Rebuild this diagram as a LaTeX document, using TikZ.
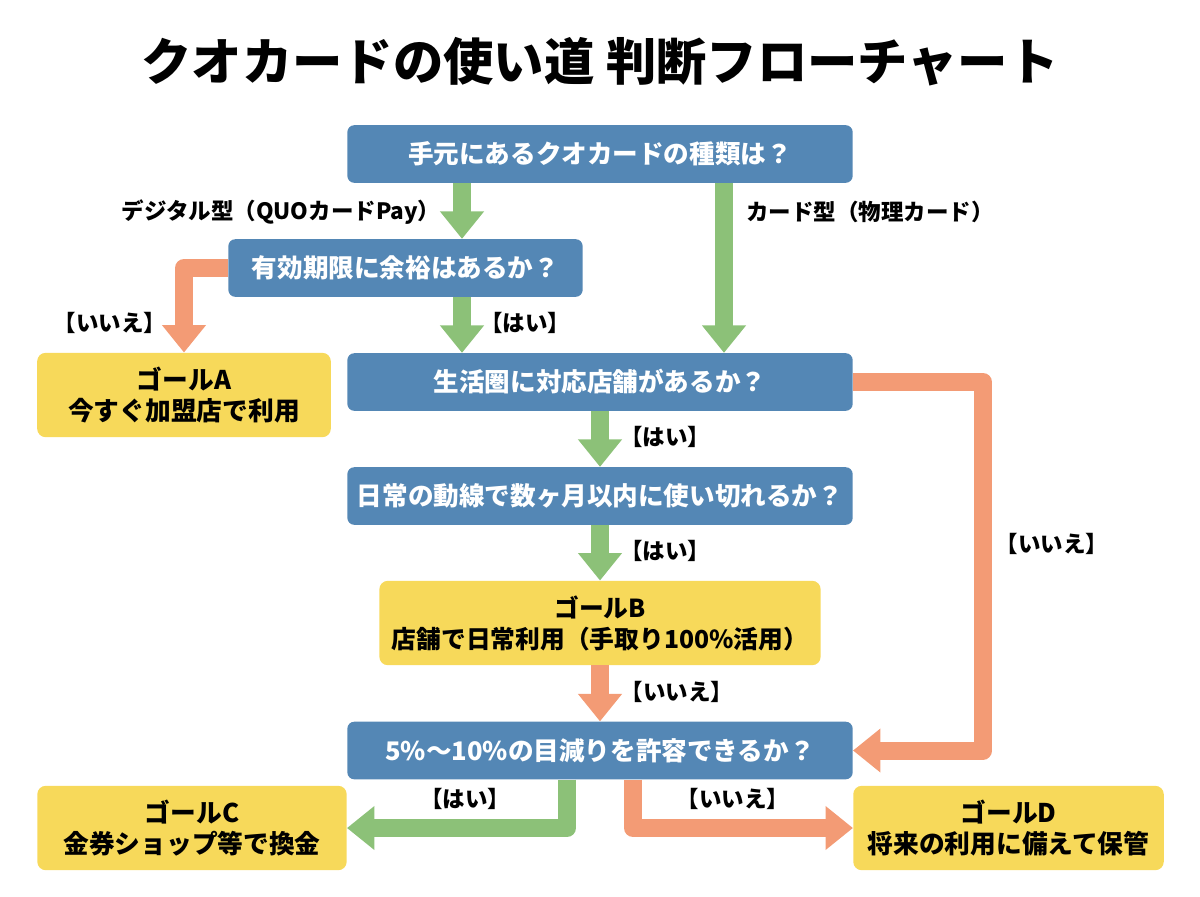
\documentclass[tikz,border=0pt]{standalone}
\usepackage{fontspec}
\setmainfont{Noto Sans CJK JP}
\usetikzlibrary{arrows.meta}
\definecolor{qblue}{HTML}{5487B5}
\definecolor{goalyellow}{HTML}{F7D95A}
\definecolor{yesgreen}{HTML}{8CC178}
\definecolor{noorange}{HTML}{F39B75}
\tikzset{
  qbox/.style={fill=qblue, text=white, rounded corners=5pt, inner sep=0pt, font=\fontsize{18.2}{22}\selectfont\bfseries},
  goalbox/.style={fill=goalyellow, text=black, rounded corners=6pt, inner sep=0pt, align=center, font=\fontsize{18.3}{22}\selectfont\bfseries},
  lbl/.style={text=black, inner sep=0pt, font=\fontsize{16}{18}\selectfont\bfseries},
  yesarrow/.style={draw=yesgreen, line width=12.8pt, line join=round, -{Triangle[width=30pt,length=19.5pt,fill=yesgreen]}},
  noarrow/.style={draw=noorange, line width=12.8pt, line join=round, -{Triangle[width=30pt,length=19.5pt,fill=noorange]}}
}
\begin{document}
\begin{tikzpicture}[x=0.025cm,y=-0.025cm]
\useasboundingbox (0,0) rectangle (1200,896);

\node[inner sep=0pt, font=\fontsize{35.8}{40}\selectfont\bfseries] (title) at (600,62) {クオカードの使い道 判断フローチャート};

% questions
\node[qbox, minimum width=359.4pt, minimum height=41pt] (kind) at (600,154) {手元にあるクオカードの種類は？};
\node[qbox, minimum width=252pt, minimum height=41pt] (expiry) at (405.5,268) {有効期限に余裕はあるか？};
\node[qbox, minimum width=359.4pt, minimum height=41pt] (shops) at (600,382) {生活圏に対応店舗があるか？};
\node[qbox, minimum width=359.4pt, minimum height=41pt] (route) at (600,496) {日常の動線で数ヶ月以内に使い切れるか？};
\node[qbox, minimum width=359.4pt, minimum height=41pt] (loss) at (600,750.5) {5\%～10\%の目減りを許容できるか？};

% goals
\node[goalbox, minimum width=208.8pt, minimum height=60pt] (goala) at (184,395) {ゴールA\\今すぐ加盟店で利用};
\node[goalbox, minimum width=313.8pt, minimum height=60pt, font=\fontsize{17.6}{22}\selectfont\bfseries] (goalb) at (600,623) {ゴールB\\店舗で日常利用（手取り100\%活用）};
\node[goalbox, minimum width=220pt, minimum height=60pt] (goalc) at (192,828) {ゴールC\\金券ショップ等で換金};
\node[goalbox, minimum width=220.8pt, minimum height=60pt] (goald) at (1008.5,828) {ゴールD\\将来の利用に備えて保管};

% where the arrows run
\coordinate (digital) at (462,0);
\coordinate (card) at (724,0);
\coordinate (bendright) at (983,0);
\coordinate (bendc) at (567,0);
\coordinate (bendd) at (633,0);

% green
\draw[yesarrow] (kind.south -| digital) -- (expiry.north -| digital);
\draw[yesarrow] (kind.south -| card) -- (shops.north -| card);
\draw[yesarrow] (expiry.south -| digital) -- (shops.north -| digital);
\draw[yesarrow] (shops.south) -- (route.north);
\draw[yesarrow] (route.south) -- (goalb.north);
\draw[yesarrow] (loss.south -| bendc) -- (goalc.east -| bendc) -- (goalc.east);

% orange
\draw[noarrow] (expiry.west) -| (goala.north);
\draw[noarrow] (goalb.south) -- (loss.north);
\draw[noarrow] (shops.east) -- (shops.east -| bendright) -- (loss.east -| bendright) -- (loss.east);
\draw[noarrow] (loss.south -| bendd) -- (goald.west -| bendd) -- (goald.west);

% labels
\node[lbl] (ldigital) at (281,212) {デジタル型（QUOカードPay）};
\node[lbl] (lcard) at (870,212) {カード型（物理カード）};
\node[lbl] (lno1) at (110,323) {【いいえ】};
\node[lbl] (lyes1) at (525,323) {【はい】};
\node[lbl] (lyes2) at (665,437) {【はい】};
\node[lbl] (lyes3) at (665,551) {【はい】};
\node[lbl] (lno2) at (677,692) {【いいえ】};
\node[lbl] (lno3) at (1052,544) {【いいえ】};
\node[lbl] (lyes4) at (465,799) {【はい】};
\node[lbl] (lno4) at (733,799) {【いいえ】};
\end{tikzpicture}
\end{document}
